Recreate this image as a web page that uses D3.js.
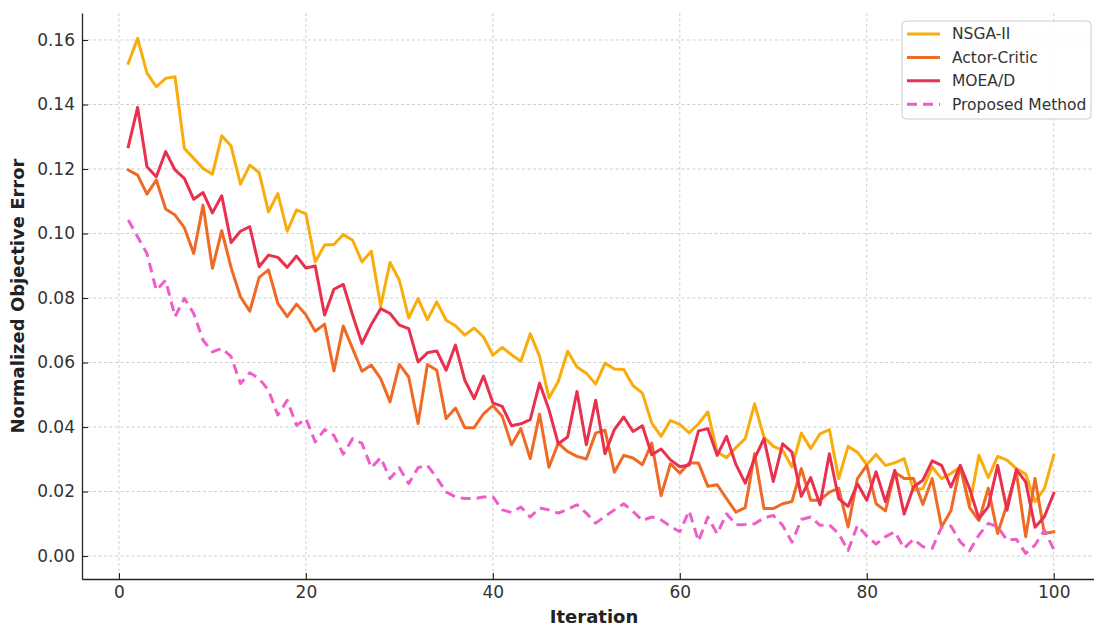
<!DOCTYPE html>
<html>
<head>
<meta charset="utf-8">
<script src="https://cdn.jsdelivr.net/npm/d3@7"></script>
<style>
  html, body { margin: 0; padding: 0; background: #ffffff; }
  svg { display: block; font-family: "DejaVu Sans", sans-serif; }
</style>
</head>
<body>
<svg id="chart" width="1094" height="626"></svg>
<script>
// Iterations 1..100
const iterations = d3.range(1, 101);

const nsga2 = [
  0.1528, 0.1605, 0.1497, 0.1455, 0.1481, 0.1486, 0.1264, 0.1233, 0.1202, 0.1184,
  0.1303, 0.1271, 0.1153, 0.1212, 0.1189, 0.1067, 0.1124, 0.1007, 0.1073, 0.1061,
  0.0912, 0.0964, 0.0966, 0.0997, 0.0979, 0.0912, 0.0945, 0.0775, 0.0910, 0.0855,
  0.0738, 0.0798, 0.0733, 0.0788, 0.0731, 0.0714, 0.0685, 0.0707, 0.0679, 0.0623,
  0.0647, 0.0624, 0.0604, 0.0689, 0.0619, 0.0490, 0.0541, 0.0635, 0.0586, 0.0567,
  0.0533, 0.0598, 0.0580, 0.0578, 0.0528, 0.0505, 0.0412, 0.0371, 0.0420, 0.0408,
  0.0382, 0.0410, 0.0447, 0.0322, 0.0305, 0.0336, 0.0364, 0.0472, 0.0369, 0.0340,
  0.0328, 0.0276, 0.0381, 0.0333, 0.0379, 0.0392, 0.0240, 0.0340, 0.0322, 0.0283,
  0.0315, 0.0281, 0.0289, 0.0302, 0.0204, 0.0209, 0.0276, 0.0240, 0.0256, 0.0276,
  0.0158, 0.0312, 0.0243, 0.0309, 0.0297, 0.0271, 0.0254, 0.0168, 0.0209, 0.0312
];

const actorCritic = [
  0.1197, 0.1181, 0.1122, 0.1166, 0.1076, 0.1057, 0.1018, 0.0938, 0.1088, 0.0892,
  0.1009, 0.0894, 0.0804, 0.0759, 0.0864, 0.0887, 0.0783, 0.0742, 0.0781, 0.0748,
  0.0697, 0.0719, 0.0574, 0.0713, 0.0643, 0.0573, 0.0592, 0.0550, 0.0478, 0.0594,
  0.0555, 0.0411, 0.0594, 0.0576, 0.0426, 0.0459, 0.0398, 0.0398, 0.0441, 0.0466,
  0.0433, 0.0345, 0.0395, 0.0302, 0.0440, 0.0275, 0.0350, 0.0324, 0.0309, 0.0301,
  0.0381, 0.0390, 0.0260, 0.0312, 0.0304, 0.0283, 0.0350, 0.0187, 0.0286, 0.0257,
  0.0288, 0.0288, 0.0216, 0.0221, 0.0178, 0.0136, 0.0150, 0.0317, 0.0147, 0.0147,
  0.0162, 0.0169, 0.0271, 0.0173, 0.0173, 0.0198, 0.0210, 0.0090, 0.0240, 0.0281,
  0.0162, 0.0140, 0.0260, 0.0240, 0.0240, 0.0160, 0.0240, 0.0090, 0.0140, 0.0280,
  0.0150, 0.0110, 0.0210, 0.0070, 0.0160, 0.0260, 0.0060, 0.0240, 0.0070, 0.0075
];

const moead = [
  0.1269, 0.1391, 0.1207, 0.1176, 0.1254, 0.1197, 0.1171, 0.1106, 0.1127, 0.1064,
  0.1117, 0.0972, 0.1007, 0.1021, 0.0897, 0.0933, 0.0926, 0.0895, 0.0930, 0.0893,
  0.0899, 0.0747, 0.0827, 0.0842, 0.0747, 0.0659, 0.0718, 0.0767, 0.0752, 0.0716,
  0.0705, 0.0602, 0.0630, 0.0636, 0.0576, 0.0654, 0.0545, 0.0488, 0.0558, 0.0475,
  0.0464, 0.0404, 0.0410, 0.0423, 0.0536, 0.0454, 0.0348, 0.0369, 0.0510, 0.0345,
  0.0483, 0.0317, 0.0392, 0.0431, 0.0386, 0.0404, 0.0314, 0.0332, 0.0298, 0.0277,
  0.0282, 0.0388, 0.0395, 0.0312, 0.0371, 0.0284, 0.0226, 0.0302, 0.0364, 0.0231,
  0.0348, 0.0322, 0.0185, 0.0243, 0.0159, 0.0317, 0.0178, 0.0154, 0.0224, 0.0173,
  0.0261, 0.0168, 0.0266, 0.0130, 0.0214, 0.0235, 0.0295, 0.0281, 0.0214, 0.0281,
  0.0209, 0.0116, 0.0153, 0.0281, 0.0142, 0.0268, 0.0230, 0.0089, 0.0122, 0.0194
];

const proposed = [
  0.1042, 0.0990, 0.0938, 0.0824, 0.0855, 0.0742, 0.0799, 0.0752, 0.0669, 0.0633,
  0.0644, 0.0618, 0.0535, 0.0568, 0.0550, 0.0514, 0.0437, 0.0483, 0.0405, 0.0426,
  0.0354, 0.0392, 0.0374, 0.0316, 0.0364, 0.0349, 0.0274, 0.0305, 0.0240, 0.0274,
  0.0224, 0.0274, 0.0281, 0.0242, 0.0199, 0.0183, 0.0178, 0.0178, 0.0183, 0.0184,
  0.0143, 0.0135, 0.0152, 0.0121, 0.0149, 0.0143, 0.0133, 0.0145, 0.0159, 0.0133,
  0.0102, 0.0123, 0.0143, 0.0162, 0.0138, 0.0110, 0.0121, 0.0112, 0.0092, 0.0075,
  0.0140, 0.0046, 0.0121, 0.0069, 0.0131, 0.0097, 0.0098, 0.0100, 0.0118, 0.0126,
  0.0095, 0.0043, 0.0113, 0.0121, 0.0095, 0.0097, 0.0069, 0.0017, 0.0095, 0.0062,
  0.0037, 0.0060, 0.0075, 0.0024, 0.0052, 0.0029, 0.0024, 0.0089, 0.0093, 0.0044,
  0.0016, 0.0065, 0.0101, 0.0091, 0.0049, 0.0052, 0.0008, 0.0034, 0.0080, 0.0021
];

const seriesNames = ["NSGA-II", "Actor-Critic", "MOEA/D", "Proposed Method"];
const seriesValues = [nsga2, actorCritic, moead, proposed];
const seriesColors = ["#F8AD0C", "#EF6A24", "#E9304F", "#EF5EC8"];
const seriesDash = [null, null, null, "10,6"];

const xTicks = [0, 20, 40, 60, 80, 100];
const yTicks = [0.00, 0.02, 0.04, 0.06, 0.08, 0.10, 0.12, 0.14, 0.16];

const svg = d3.select("#chart");

// Plot frame (axes box); right side runs past the canvas edge
const plot = { left: 82, top: 13, right: 1100, bottom: 579 };

const xPad = 0.05 * (100 - 1);
const x = d3.scaleLinear().domain([1 - xPad, 100 + xPad]).range([plot.left, plot.right]);
const yMin = -0.00713, yMax = 0.16837;
const y = d3.scaleLinear().domain([yMin, yMax]).range([plot.bottom, plot.top]);

svg.append("defs").append("clipPath").attr("id", "plot-clip")
  .append("rect")
  .attr("x", plot.left).attr("y", plot.top)
  .attr("width", plot.right - plot.left).attr("height", plot.bottom - plot.top);

// Dashed grid
const grid = svg.append("g").attr("class", "grid");
grid.selectAll("line.gx").data(xTicks).join("line")
  .attr("class", "gx")
  .attr("x1", d => x(d)).attr("x2", d => x(d))
  .attr("y1", plot.top).attr("y2", plot.bottom)
  .attr("stroke", "#cfcfcf").attr("stroke-width", 1).attr("stroke-dasharray", "3,2.5");
grid.selectAll("line.gy").data(yTicks).join("line")
  .attr("class", "gy")
  .attr("x1", plot.left).attr("x2", plot.right)
  .attr("y1", d => y(d)).attr("y2", d => y(d))
  .attr("stroke", "#cfcfcf").attr("stroke-width", 1).attr("stroke-dasharray", "3,2.5");

// Series lines
const line = d3.line().x((d, i) => x(iterations[i])).y(d => y(d));
const lines = svg.append("g").attr("clip-path", "url(#plot-clip)");
seriesValues.forEach((vals, k) => {
  lines.append("path")
    .datum(vals)
    .attr("fill", "none")
    .attr("stroke", seriesColors[k])
    .attr("stroke-width", 3)
    .attr("stroke-linejoin", "round")
    .attr("stroke-linecap", seriesDash[k] ? "butt" : "square")
    .attr("stroke-dasharray", seriesDash[k])
    .attr("d", line);
});

// Axes with inward ticks
const xAxis = d3.axisBottom(x).tickValues(xTicks).tickFormat(d3.format("d"))
  .tickSizeInner(-6).tickSizeOuter(0).tickPadding(7);
const yAxis = d3.axisLeft(y).tickValues(yTicks).tickFormat(d3.format(".2f"))
  .tickSizeInner(-6).tickSizeOuter(0).tickPadding(7);

const gx = svg.append("g").attr("transform", `translate(0,${plot.bottom})`).call(xAxis);
const gy = svg.append("g").attr("transform", `translate(${plot.left},0)`).call(yAxis);

[gx, gy].forEach(g => {
  g.select(".domain").attr("stroke", "#222").attr("stroke-width", 1.3);
  g.selectAll(".tick line").attr("stroke", "#222").attr("stroke-width", 1.1);
  g.selectAll(".tick text").attr("fill", "#333").style("font-size", "17px")
    .style("font-family", "'DejaVu Sans', sans-serif");
});

// Axis titles
svg.append("text")
  .attr("x", (plot.left + 1094) / 2 + 6).attr("y", 623)
  .attr("text-anchor", "middle")
  .style("font-size", "18px").style("font-weight", "bold").attr("fill", "#222")
  .text("Iteration");

svg.append("text")
  .attr("transform", `translate(24,${(plot.top + plot.bottom) / 2}) rotate(-90)`)
  .attr("text-anchor", "middle")
  .style("font-size", "18px").style("font-weight", "bold").attr("fill", "#222")
  .text("Normalized Objective Error");

// Legend
const legend = svg.append("g").attr("transform", "translate(902,21)");
legend.append("rect")
  .attr("width", 189).attr("height", 98).attr("rx", 4)
  .attr("fill", "#ffffff").attr("fill-opacity", 0.85)
  .attr("stroke", "#cccccc").attr("stroke-width", 1);
seriesNames.forEach((name, k) => {
  const ly = 13 + k * 23.4;
  legend.append("line")
    .attr("x1", 5).attr("x2", 38).attr("y1", ly).attr("y2", ly)
    .attr("stroke", seriesColors[k]).attr("stroke-width", 3)
    .attr("stroke-dasharray", seriesDash[k]);
  legend.append("text")
    .attr("x", 50).attr("y", ly).attr("dy", "0.35em")
    .style("font-size", "15.5px").attr("fill", "#333")
    .text(name);
});
</script>
</body>
</html>
